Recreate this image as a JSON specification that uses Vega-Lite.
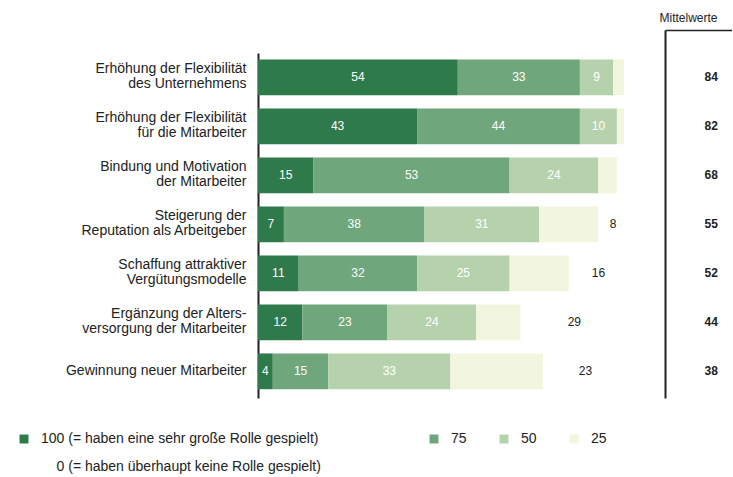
{
  "$schema": "https://vega.github.io/schema/vega-lite/v6.json",
  "autosize": {"type": "pad"},
  "padding": {"left": 17, "top": 11, "right": 0, "bottom": 0},
  "background": "white",
  "config": {"view": {"stroke": null}, "font": "Liberation Sans"},
  "bounds": "flush",
  "spacing": 37,
  "datasets": {
    "bars": [
      {"item": "Erhöhung der Flexibilität|des Unternehmens", "cat": "100", "ord": 1, "value": 54},
      {"item": "Erhöhung der Flexibilität|des Unternehmens", "cat": "75", "ord": 2, "value": 33},
      {"item": "Erhöhung der Flexibilität|des Unternehmens", "cat": "50", "ord": 3, "value": 9},
      {"item": "Erhöhung der Flexibilität|des Unternehmens", "cat": "25", "ord": 4, "value": 3},
      {"item": "Erhöhung der Flexibilität|des Unternehmens", "cat": "0", "ord": 5, "value": 1},
      {"item": "Erhöhung der Flexibilität|für die Mitarbeiter", "cat": "100", "ord": 1, "value": 43},
      {"item": "Erhöhung der Flexibilität|für die Mitarbeiter", "cat": "75", "ord": 2, "value": 44},
      {"item": "Erhöhung der Flexibilität|für die Mitarbeiter", "cat": "50", "ord": 3, "value": 10},
      {"item": "Erhöhung der Flexibilität|für die Mitarbeiter", "cat": "25", "ord": 4, "value": 2},
      {"item": "Erhöhung der Flexibilität|für die Mitarbeiter", "cat": "0", "ord": 5, "value": 1},
      {"item": "Bindung und Motivation|der Mitarbeiter", "cat": "100", "ord": 1, "value": 15},
      {"item": "Bindung und Motivation|der Mitarbeiter", "cat": "75", "ord": 2, "value": 53},
      {"item": "Bindung und Motivation|der Mitarbeiter", "cat": "50", "ord": 3, "value": 24},
      {"item": "Bindung und Motivation|der Mitarbeiter", "cat": "25", "ord": 4, "value": 5},
      {"item": "Bindung und Motivation|der Mitarbeiter", "cat": "0", "ord": 5, "value": 3},
      {"item": "Steigerung der|Reputation als Arbeitgeber", "cat": "100", "ord": 1, "value": 7},
      {"item": "Steigerung der|Reputation als Arbeitgeber", "cat": "75", "ord": 2, "value": 38},
      {"item": "Steigerung der|Reputation als Arbeitgeber", "cat": "50", "ord": 3, "value": 31},
      {"item": "Steigerung der|Reputation als Arbeitgeber", "cat": "25", "ord": 4, "value": 16},
      {"item": "Steigerung der|Reputation als Arbeitgeber", "cat": "0", "ord": 5, "value": 8},
      {"item": "Schaffung attraktiver|Vergütungsmodelle", "cat": "100", "ord": 1, "value": 11},
      {"item": "Schaffung attraktiver|Vergütungsmodelle", "cat": "75", "ord": 2, "value": 32},
      {"item": "Schaffung attraktiver|Vergütungsmodelle", "cat": "50", "ord": 3, "value": 25},
      {"item": "Schaffung attraktiver|Vergütungsmodelle", "cat": "25", "ord": 4, "value": 16},
      {"item": "Schaffung attraktiver|Vergütungsmodelle", "cat": "0", "ord": 5, "value": 16},
      {"item": "Ergänzung der Alters-|versorgung der Mitarbeiter", "cat": "100", "ord": 1, "value": 12},
      {"item": "Ergänzung der Alters-|versorgung der Mitarbeiter", "cat": "75", "ord": 2, "value": 23},
      {"item": "Ergänzung der Alters-|versorgung der Mitarbeiter", "cat": "50", "ord": 3, "value": 24},
      {"item": "Ergänzung der Alters-|versorgung der Mitarbeiter", "cat": "25", "ord": 4, "value": 12},
      {"item": "Ergänzung der Alters-|versorgung der Mitarbeiter", "cat": "0", "ord": 5, "value": 29},
      {"item": "Gewinnung neuer Mitarbeiter", "cat": "100", "ord": 1, "value": 4},
      {"item": "Gewinnung neuer Mitarbeiter", "cat": "75", "ord": 2, "value": 15},
      {"item": "Gewinnung neuer Mitarbeiter", "cat": "50", "ord": 3, "value": 33},
      {"item": "Gewinnung neuer Mitarbeiter", "cat": "25", "ord": 4, "value": 25},
      {"item": "Gewinnung neuer Mitarbeiter", "cat": "0", "ord": 5, "value": 23}
    ],
    "means": [
      {"item": "Erhöhung der Flexibilität|des Unternehmens", "mean": 84},
      {"item": "Erhöhung der Flexibilität|für die Mitarbeiter", "mean": 82},
      {"item": "Bindung und Motivation|der Mitarbeiter", "mean": 68},
      {"item": "Steigerung der|Reputation als Arbeitgeber", "mean": 55},
      {"item": "Schaffung attraktiver|Vergütungsmodelle", "mean": 52},
      {"item": "Ergänzung der Alters-|versorgung der Mitarbeiter", "mean": 44},
      {"item": "Gewinnung neuer Mitarbeiter", "mean": 38}
    ]
  },
  "resolve": {"scale": {"y": "independent", "x": "independent"}},
  "hconcat": [
    {
      "width": 370,
      "height": 368,
      "data": {"name": "bars"},
      "transform": [
        {"stack": "value", "groupby": ["item"], "sort": [{"field": "ord"}], "as": ["v0", "v1"]},
        {"calculate": "(datum.v0 + datum.v1) / 2", "as": "mid"}
      ],
      "encoding": {
        "y": {
          "field": "item", "type": "nominal",
          "sort": ["Erhöhung der Flexibilität|des Unternehmens", "Erhöhung der Flexibilität|für die Mitarbeiter", "Bindung und Motivation|der Mitarbeiter", "Steigerung der|Reputation als Arbeitgeber", "Schaffung attraktiver|Vergütungsmodelle", "Ergänzung der Alters-|versorgung der Mitarbeiter", "Gewinnung neuer Mitarbeiter"],
          "scale": {"type": "band", "paddingInner": 0.27, "paddingOuter": 0.39, "align": 0.77},
          "axis": {
            "title": null, "domain": true, "domainColor": "#222", "domainWidth": 2,
            "domainDash": [345, 23], "domainDashOffset": 345,
            "ticks": false, "grid": false, "labelPadding": 12, "labelFontSize": 14,
            "labelColor": "#222", "labelLimit": 300, "labelLineHeight": 15,
            "labelExpr": "split(datum.label, '|')",
            "labelOffset": {"condition": {"test": "indexof(datum.value, '|') >= 0", "value": -8}, "value": 0}
          }
        }
      },
      "layer": [
        {
          "mark": {"type": "bar"},
          "encoding": {
            "x": {"field": "v0", "type": "quantitative", "scale": {"domain": [0, 100]}, "axis": null},
            "x2": {"field": "v1"},
            "color": {
              "field": "cat", "type": "nominal",
              "scale": {"domain": ["100", "75", "50", "25", "0"], "range": ["#2e7a4b", "#6fa67c", "#b6d2ad", "#f3f6df", "#ffffff"]},
              "legend": {
                "orient": "none", "legendX": -241, "legendY": 402, "direction": "horizontal",
                "columns": 4, "columnPadding": 30, "rowPadding": 14, "title": null,
                "symbolType": "square", "symbolSize": 80, "symbolStrokeWidth": 0,
                "labelFontSize": 14, "labelColor": "#222", "labelOffset": 10, "labelLimit": 600,
                "labelExpr": "datum.value == '100' ? '100 (= haben eine sehr große Rolle gespielt)\u00a0\u00a0\u00a0\u00a0\u00a0\u00a0\u00a0\u00a0\u00a0\u00a0\u00a0\u00a0\u00a0\u00a0\u00a0\u00a0\u00a0\u00a0\u00a0\u00a0\u200b' : datum.value == '0' ? '\u200b\u00a0\u00a0\u00a0\u00a00 (= haben überhaupt keine Rolle gespielt)' : datum.label"
              }
            }
          }
        },
        {
          "transform": [{"filter": "datum.cat != '0' && datum.cat != '25' && datum.value >= 4"}],
          "mark": {"type": "text", "color": "white", "fontSize": 12},
          "encoding": {
            "x": {"field": "mid", "type": "quantitative"},
            "text": {"field": "value", "type": "quantitative"}
          }
        },
        {
          "transform": [{"filter": "datum.cat == '0' && datum.value >= 8"}],
          "mark": {"type": "text", "color": "#222", "fontSize": 12},
          "encoding": {
            "x": {"field": "mid", "type": "quantitative"},
            "text": {"field": "value", "type": "quantitative"}
          }
        }
      ]
    },
    {
      "width": 67,
      "height": 368,
      "data": {"name": "means"},
      "mark": {"type": "text", "fontSize": 12, "color": "#222", "fontWeight": "bold"},
      "encoding": {
        "y": {
          "field": "item", "type": "nominal",
          "sort": ["Erhöhung der Flexibilität|des Unternehmens", "Erhöhung der Flexibilität|für die Mitarbeiter", "Bindung und Motivation|der Mitarbeiter", "Steigerung der|Reputation als Arbeitgeber", "Schaffung attraktiver|Vergütungsmodelle", "Ergänzung der Alters-|versorgung der Mitarbeiter", "Gewinnung neuer Mitarbeiter"],
          "scale": {"type": "band", "paddingInner": 0.27, "paddingOuter": 0.39, "align": 0.77},
          "axis": {"orient": "left", "domain": true, "domainColor": "#222", "domainWidth": 2, "labels": false, "ticks": false, "grid": false, "title": null}
        },
        "x": {
          "datum": 0.69, "type": "quantitative", "scale": {"domain": [0, 1]},
          "axis": {"orient": "top", "labels": false, "ticks": false, "grid": false, "domain": true, "domainColor": "#222", "domainWidth": 1.5, "title": "Mittelwerte", "titleAnchor": "start", "titleAlign": "left", "titleX": -6, "titleFontSize": 12, "titleFontWeight": "normal", "titleColor": "#222", "titlePadding": 6}
        },
        "text": {"field": "mean", "type": "quantitative"}
      }
    }
  ]
}
